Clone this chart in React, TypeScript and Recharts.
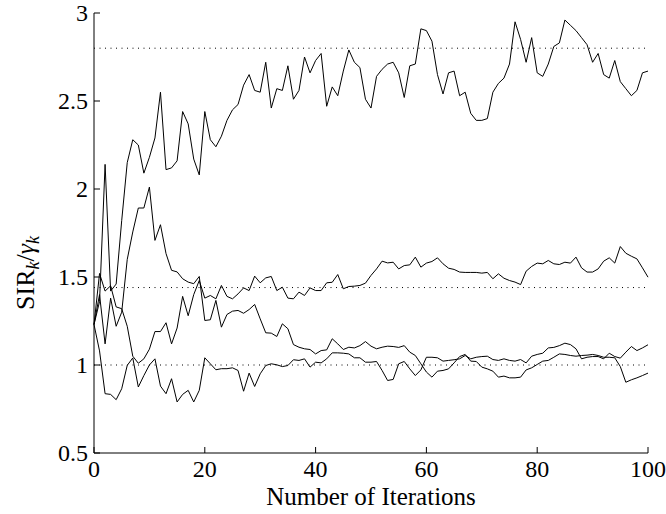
import React from 'react';
import { LineChart, Line, XAxis, YAxis, ReferenceLine } from 'recharts';

// SIR_k / gamma_k per iteration, one array per user (iteration = index 0..100)
const userA = [
  1.23, 1.36, 2.14, 1.42, 1.46, 1.82, 2.15, 2.28, 2.25, 2.09,
  2.18, 2.29, 2.55, 2.11, 2.12, 2.16, 2.44, 2.37, 2.17, 2.08,
  2.44, 2.28, 2.24, 2.30, 2.39, 2.45, 2.48, 2.59, 2.65, 2.56,
  2.55, 2.72, 2.46, 2.57, 2.56, 2.70, 2.51, 2.56, 2.75, 2.66,
  2.73, 2.77, 2.47, 2.58, 2.53, 2.67, 2.79, 2.72, 2.69, 2.51,
  2.46, 2.64, 2.68, 2.71, 2.72, 2.66, 2.52, 2.70, 2.71, 2.91,
  2.90, 2.84, 2.65, 2.54, 2.66, 2.67, 2.53, 2.55, 2.43, 2.39,
  2.39, 2.40, 2.55, 2.60, 2.63, 2.71, 2.95, 2.85, 2.72, 2.86,
  2.66, 2.64, 2.71, 2.81, 2.83, 2.96, 2.93, 2.90, 2.86, 2.82,
  2.72, 2.77, 2.65, 2.63, 2.73, 2.61, 2.57, 2.53, 2.56, 2.66,
  2.67,
];

const userB = [
  1.23, 1.52, 1.42, 1.45, 1.33, 1.32, 1.22, 1.05, 1.01, 1.035,
  1.09, 1.19, 1.19, 1.24, 1.12, 1.21, 1.39, 1.28, 1.40, 1.48,
  1.38, 1.395, 1.376, 1.452, 1.39, 1.376, 1.404, 1.438, 1.423, 1.505,
  1.467, 1.495, 1.503, 1.423, 1.442, 1.38, 1.376, 1.414, 1.395, 1.438,
  1.423, 1.423, 1.467, 1.47, 1.514, 1.433, 1.446, 1.448, 1.452, 1.465,
  1.509, 1.546, 1.59, 1.58, 1.584, 1.546, 1.565, 1.569, 1.613, 1.556,
  1.579, 1.588, 1.609, 1.575, 1.55, 1.543, 1.528, 1.526, 1.526, 1.526,
  1.522, 1.526, 1.49, 1.518, 1.493, 1.48, 1.471, 1.457, 1.533, 1.56,
  1.579, 1.575, 1.594, 1.575, 1.571, 1.584, 1.579, 1.613, 1.552, 1.528,
  1.528, 1.546, 1.59, 1.609, 1.579, 1.673, 1.635, 1.618, 1.603, 1.552,
  1.499,
];

const userC = [
  1.23, 1.40, 1.12, 1.38, 1.22, 1.30, 1.60, 1.756, 1.892, 1.892,
  2.011, 1.708, 1.797, 1.633, 1.538, 1.529, 1.49, 1.471, 1.462, 1.503,
  1.253, 1.257, 1.367, 1.215, 1.287, 1.306, 1.31, 1.294, 1.315, 1.344,
  1.262, 1.183, 1.181, 1.162, 1.234, 1.206, 1.116, 1.101, 1.092, 1.088,
  1.063, 1.082, 1.086, 1.149, 1.12, 1.088, 1.101, 1.097, 1.11, 1.133,
  1.107, 1.092, 1.101, 1.107, 1.105, 1.10, 1.11, 1.073, 1.054, 1.007,
  0.96, 0.931, 0.965, 0.969, 0.978, 1.012, 1.048, 1.06, 1.022, 1.02,
  0.988, 0.978, 0.965, 0.931, 0.937, 0.927, 0.927, 0.931, 0.972, 0.984,
  1.003, 1.022, 1.026, 1.044, 1.063, 1.06, 1.054, 1.05, 1.054, 1.056,
  1.06, 1.054, 1.044, 1.044, 1.041, 0.991, 0.902, 0.916, 0.927, 0.94,
  0.954,
];

const userD = [
  1.23, 1.08, 0.837, 0.833, 0.803, 0.865, 0.998, 1.04, 0.875, 0.94,
  1.0, 1.035, 0.88, 0.837, 0.922, 0.79, 0.833, 0.856, 0.79, 0.856,
  1.041, 1.007, 0.973, 0.979, 0.979, 0.984, 0.969, 0.851, 0.954, 0.878,
  0.95, 0.997, 1.007, 1.001, 0.991, 0.997, 1.03, 1.026, 1.035, 0.988,
  1.016, 1.012, 1.035, 1.069, 1.069, 1.067, 1.063, 1.041, 1.041, 1.016,
  1.016, 1.02, 0.969, 0.912, 0.918, 1.007, 1.02, 0.978, 0.94, 0.972,
  1.044, 1.044, 1.041, 1.022, 1.026, 1.03, 1.035, 1.054, 1.035, 1.044,
  1.048, 1.05, 1.031, 1.026, 1.035, 1.026, 1.022, 1.031, 1.012, 1.05,
  1.06, 1.067, 1.097, 1.10, 1.11, 1.124, 1.116, 1.092, 1.035, 1.044,
  1.048, 1.048, 1.035, 1.067, 1.048, 1.039, 1.073, 1.105, 1.082, 1.097,
  1.115,
];

// target SIR levels (dotted)
const targets = [2.8, 1.44, 1.0];

const xTicks = [0, 20, 40, 60, 80, 100];
const yTicks = [0.5, 1, 1.5, 2, 2.5, 3];

const data = userA.map((a, i) => ({
  iter: i,
  a,
  b: userB[i],
  c: userC[i],
  d: userD[i],
}));

const FONT = '"Liberation Serif", "Times New Roman", serif';
const FS = 24;
const TICK = 6;
const X_MARGIN = 8;
const Y_MARGIN = 6;

function BottomTick({ x, y, payload }: any) {
  const axisY = y - X_MARGIN;
  return (
    <g>
      <line x1={x} y1={axisY} x2={x} y2={axisY - TICK} stroke="#000" />
      <text x={x} y={axisY + 24} textAnchor="middle" fontSize={FS} fontFamily={FONT} fill="#000">
        {payload.value}
      </text>
    </g>
  );
}

function LeftTick({ x, y, payload }: any) {
  const axisX = x + Y_MARGIN;
  return (
    <g>
      <line x1={axisX} y1={y} x2={axisX + TICK} y2={y} stroke="#000" />
      <text x={x} y={y} dy="0.35em" textAnchor="end" fontSize={FS} fontFamily={FONT} fill="#000">
        {payload.value}
      </text>
    </g>
  );
}

function TopTick({ x, y }: any) {
  return <line x1={x} y1={y} x2={x} y2={y + TICK} stroke="#000" />;
}

function RightTick({ x, y }: any) {
  return <line x1={x} y1={y} x2={x - TICK} y2={y} stroke="#000" />;
}

function XLabel({ viewBox }: any) {
  const { x, y, width } = viewBox;
  return (
    <text x={x + width / 2} y={y + 52} textAnchor="middle" fontSize={25} fontFamily={FONT} fill="#000">
      Number of Iterations
    </text>
  );
}

function YLabel({ viewBox }: any) {
  const { y, height } = viewBox;
  const cx = 34;
  const cy = y + height / 2 + 40;
  return (
    <text
      x={cx}
      y={cy}
      transform={`rotate(-90, ${cx}, ${cy})`}
      textAnchor="middle"
      fontSize={26}
      fontFamily={FONT}
      fill="#000"
    >
      SIR
      <tspan fontStyle="italic" fontSize={18} dy={5}>k</tspan>
      <tspan dy={-5}>/</tspan>
      <tspan fontStyle="italic">γ</tspan>
      <tspan fontStyle="italic" fontSize={18} dy={5}>k</tspan>
    </text>
  );
}

export default function App() {
  return (
    <div style={{ position: 'absolute', left: 0, top: 0, width: 666, height: 514, background: '#fff' }}>
      <LineChart width={666} height={514} data={data} margin={{ top: 13, right: 18, left: 0, bottom: 0 }}>
        <XAxis
          xAxisId="bottom"
          dataKey="iter"
          type="number"
          domain={[0, 100]}
          ticks={xTicks}
          interval={0}
          height={61}
          tickSize={0}
          tickMargin={X_MARGIN}
          tickLine={false}
          axisLine={{ stroke: '#000' }}
          tick={<BottomTick />}
          label={<XLabel />}
        />
        <XAxis
          xAxisId="top"
          orientation="top"
          dataKey="iter"
          type="number"
          domain={[0, 100]}
          ticks={xTicks}
          interval={0}
          height={0}
          tickSize={0}
          tickMargin={0}
          tickLine={false}
          axisLine={{ stroke: '#000' }}
          tick={<TopTick />}
        />
        <YAxis
          yAxisId="left"
          type="number"
          domain={[0.5, 3]}
          allowDataOverflow
          ticks={yTicks}
          interval={0}
          width={94}
          tickSize={0}
          tickMargin={Y_MARGIN}
          tickLine={false}
          axisLine={{ stroke: '#000' }}
          tick={<LeftTick />}
          label={<YLabel />}
        />
        <YAxis
          yAxisId="right"
          orientation="right"
          type="number"
          domain={[0.5, 3]}
          allowDataOverflow
          ticks={yTicks}
          interval={0}
          width={0}
          tickSize={0}
          tickMargin={0}
          tickLine={false}
          axisLine={{ stroke: '#000' }}
          tick={<RightTick />}
        />
        {targets.map((t) => (
          <ReferenceLine
            key={t}
            xAxisId="bottom"
            yAxisId="left"
            y={t}
            stroke="#000"
            strokeDasharray="1 4.5"
          />
        ))}
        {['a', 'b', 'c', 'd'].map((k) => (
          <Line
            key={k}
            xAxisId="bottom"
            yAxisId="left"
            dataKey={k}
            type="linear"
            stroke="#000"
            strokeWidth={1}
            dot={false}
            activeDot={false}
            isAnimationActive={false}
          />
        ))}
      </LineChart>
    </div>
  );
}
